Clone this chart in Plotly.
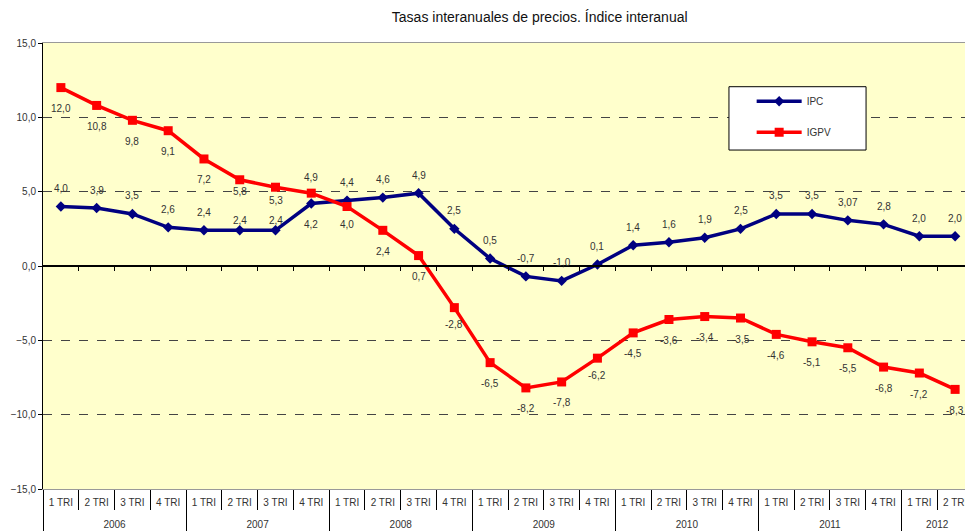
import plotly.graph_objects as go

years = ["2006"] * 4 + ["2007"] * 4 + ["2008"] * 4 + ["2009"] * 4 + ["2010"] * 4 + ["2011"] * 4 + ["2012"] * 2
quarters = ["1 TRI", "2 TRI", "3 TRI", "4 TRI"] * 6 + ["1 TRI", "2 TRI"]

ipc = [4.0, 3.9, 3.5, 2.6, 2.4, 2.4, 2.4, 4.2, 4.4, 4.6, 4.9, 2.5, 0.5, -0.7, -1.0, 0.1,
       1.4, 1.6, 1.9, 2.5, 3.5, 3.5, 3.07, 2.8, 2.0, 2.0]
igpv = [12.0, 10.8, 9.8, 9.1, 7.2, 5.8, 5.3, 4.9, 4.0, 2.4, 0.7, -2.8, -6.5, -8.2, -7.8, -6.2,
        -4.5, -3.6, -3.4, -3.5, -4.6, -5.1, -5.5, -6.8, -7.2, -8.3]


def fmt(v):
    s = f"{v:.1f}" if round(v, 1) == v else f"{v:.2f}"
    return s.replace(".", ",")


FONT = "Liberation Sans, Arial, sans-serif"
lbl_font = dict(family=FONT, size=10, color="#333333")
n = len(ipc)

# year row is pushed one line lower, below the quarter row
year_row = ["<br>" + y for y in years]

# label placement (pixel shift of each data label from its point; + is up)
ipc_shift = [18] * n
ipc_shift[5] = 10
ipc_shift[6] = 10
ipc_shift[7] = -21
igpv_shift = [-21] * n
igpv_shift[5] = -12
igpv_shift[6] = -13
igpv_shift[7] = 16
igpv_shift[8] = -18
igpv_shift[11] = -17
igpv_shift[15] = -17

fig = go.Figure()
fig.add_trace(go.Scatter(
    x=[year_row, quarters], y=ipc, name="IPC", mode="lines+markers",
    line=dict(color="#000080", width=3.5),
    marker=dict(symbol="diamond", size=8, color="#000080"),
    legendgroup="a",
))
fig.add_trace(go.Scatter(
    x=[year_row, quarters], y=igpv, name="IGPV", mode="lines+markers",
    line=dict(color="#FF0000", width=3.5),
    marker=dict(symbol="square", size=9, color="#FF0000"),
    legendgroup="b",
))
# helper trace so the zero-crossing axis is drawn
fig.add_trace(go.Scatter(x=[], y=[], xaxis="x2", showlegend=False, hoverinfo="skip"))

annotations = []
for series, shifts in ((ipc, ipc_shift), (igpv, igpv_shift)):
    for i, v in enumerate(series):
        annotations.append(dict(x=i, y=v, xref="x2", yref="y", text=fmt(v), showarrow=False,
                                yshift=shifts[i], xanchor="center", yanchor="middle",
                                font=lbl_font))

fig.update_layout(
    width=965, height=523,
    margin=dict(l=35, r=0, t=35, b=42),
    paper_bgcolor="white", plot_bgcolor="#FFFFCC",
    separators=",.",
    font=dict(family=FONT, size=10, color="#333333"),
    title=dict(text="Tasas interanuales de precios. Índice interanual",
               x=0.551, xref="container", xanchor="center", y=0.982, yanchor="middle",
               font=dict(size=14, color="#111111")),
    xaxis=dict(type="multicategory", range=[-0.5, n - 0.5], showgrid=False, automargin=False,
               showline=True, linecolor="#999999", mirror=True,
               ticks="outside", ticklen=20, tickcolor="black", ticklabelstandoff=4,
               showdividers=True, dividercolor="black", dividerwidth=1,
               tickfont=dict(size=10, color="#333333")),
    xaxis2=dict(overlaying="x", anchor="free", position=0.5, range=[-0.5, n - 0.5],
                showgrid=False, zeroline=False, showline=True, linecolor="black", linewidth=1.5,
                ticks="outside", ticklen=4, tickcolor="black",
                tickvals=[k + 0.5 for k in range(n - 1)], showticklabels=False),
    yaxis=dict(range=[-15, 15], dtick=5, tickformat=".1f", showline=True, linecolor="black",
               ticks="outside", ticklen=4, tickcolor="black", zeroline=False,
               showgrid=True, gridcolor="#444444", griddash="dash", gridwidth=1,
               tickfont=dict(size=10, color="#333333")),
    legend=dict(x=0.762, y=0.902, xanchor="left", yanchor="top",
                bgcolor="rgba(0,0,0,0)", borderwidth=0,
                font=dict(size=10, color="#333333"), tracegroupgap=12,
                itemwidth=45),
    shapes=[dict(type="rect", xref="paper", yref="paper", x0=0.7376, x1=0.885, y0=0.76, y1=0.902,
                 fillcolor="white", line=dict(color="black", width=1), layer="above")],
    annotations=annotations,
)
fig.write_html("out.html")
